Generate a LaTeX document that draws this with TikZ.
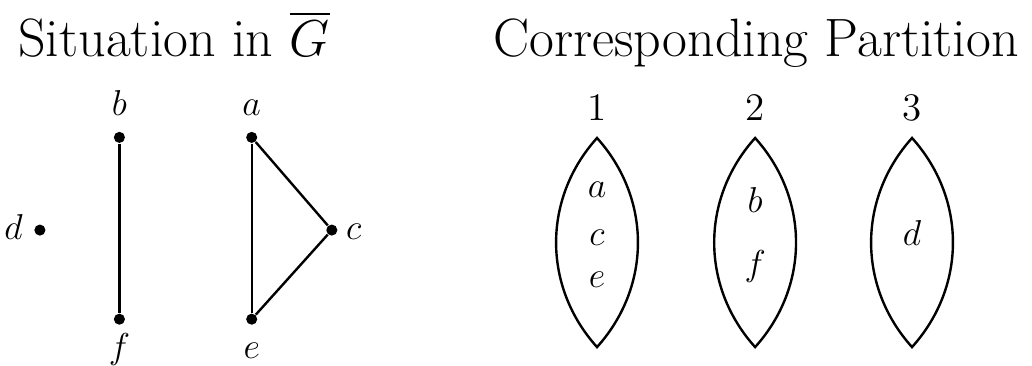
\documentclass[tikz,border=0pt]{standalone}
\usepackage{amsmath}
\usetikzlibrary{positioning}
\tikzset{
  vtx/.style     = {fill, circle, inner sep=0pt, minimum size=3.7pt},
  vlab/.style    = {font=\large, inner sep=0pt, text height=8.5pt, text depth=2.4pt},
  member/.style  = {font=\large, anchor=base},
  blocknum/.style= {font=\fontsize{13}{15}\selectfont, anchor=base},
  heading/.style = {font=\fontsize{18}{22}\selectfont, anchor=base},
  edge/.style    = {line width=0.8pt},
  lens/.style    = {line width=0.8pt, line join=miter},
}

\begin{document}
\begin{tikzpicture}[x=1pt,y=1pt,label distance=2.5pt,every label/.style={vlab}]
\useasboundingbox (0,0) rectangle (344,122);
% ---- left: the complement graph ----
\node[heading] (hG) at (58,103) {Situation in $\overline{G}$};
\node[vtx,label={[label distance=3.5pt]left:$d$}] (d) at (13.3,45.3) {};
\node[vtx,label=above:$b$] (b) at (39.8,76.2) {};
\node[vtx,label=below:$f$] (f) at (39.8,15.6) {};
\node[vtx,label=above:$a$] (a) at (83.9,76.2) {};
\node[vtx,label=below:$e$] (e) at (83.9,15.6) {};
\node[vtx,label=right:$c$] (c) at (110.6,45.3) {};
\draw[edge] (b) -- (f);
\draw[edge] (a) -- (e);
\draw[edge] (a) -- (c);
\draw[edge] (c) -- (e);
% ---- right: the colour classes ----
\node[heading] (hP) at (252,103) {Corresponding Partition};
\coordinate (T1) at (199,76);   \coordinate (B1) at (199,6.3);
\coordinate (T2) at (251.7,76); \coordinate (B2) at (251.7,6.3);
\coordinate (T3) at (304,76);   \coordinate (B3) at (304,6.3);
\draw[lens] (T1) to[bend left=42] (B1) to[bend left=42] cycle;
\draw[lens] (T2) to[bend left=42] (B2) to[bend left=42] cycle;
\draw[lens] (T3) to[bend left=42] (B3) to[bend left=42] cycle;
\node[blocknum] (n1) at (199,81.7) {1};
\node[blocknum] (n2) at (251.7,81.7) {2};
\node[blocknum] (n3) at (304,81.7) {3};
\node[member] (m1a) at (199,56) {$a$};
\node[member] (m1c) at (199,40.3) {$c$};
\node[member] (m1e) at (199,26) {$e$};
\node[member] (m2b) at (251.7,51.3) {$b$};
\node[member] (m2f) at (251.7,30) {$f$};
\node[member] (m3d) at (304,40.3) {$d$};
\end{tikzpicture}
\end{document}
